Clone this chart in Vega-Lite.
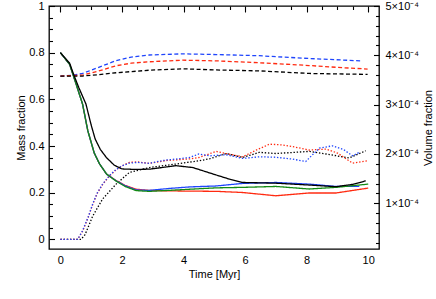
{
  "$schema": "https://vega.github.io/schema/vega-lite/v6.json",
  "width": 330,
  "height": 243,
  "autosize": {"type": "none"},
  "padding": {"left": 49, "top": 6, "right": 57, "bottom": 50},
  "config": {
    "font": "Liberation Sans",
    "view": {"stroke": "#000000", "strokeWidth": 1.3},
    "axis": {"grid": false, "domain": false, "labelFontSize": 11, "titleFontSize": 11, "labelColor": "#000000", "titleColor": "#000000", "tickColor": "#000000", "titleFontWeight": "normal", "tickWidth": 1.1}
  },
  "data": {
    "values": [
      {"t": 0, "v": 0.70, "color": "blue", "style": "dashed"},
      {"t": 0.4, "v": 0.703, "color": "blue", "style": "dashed"},
      {"t": 0.72, "v": 0.711, "color": "blue", "style": "dashed"},
      {"t": 1.2, "v": 0.735, "color": "blue", "style": "dashed"},
      {"t": 1.81, "v": 0.766, "color": "blue", "style": "dashed"},
      {"t": 2.3, "v": 0.781, "color": "blue", "style": "dashed"},
      {"t": 2.89, "v": 0.79, "color": "blue", "style": "dashed"},
      {"t": 3.97, "v": 0.795, "color": "blue", "style": "dashed"},
      {"t": 5.06, "v": 0.792, "color": "blue", "style": "dashed"},
      {"t": 6.46, "v": 0.787, "color": "blue", "style": "dashed"},
      {"t": 8.08, "v": 0.775, "color": "blue", "style": "dashed"},
      {"t": 9.76, "v": 0.765, "color": "blue", "style": "dashed"},

      {"t": 0, "v": 0.70, "color": "red", "style": "dashed"},
      {"t": 0.72, "v": 0.704, "color": "red", "style": "dashed"},
      {"t": 1.2, "v": 0.72, "color": "red", "style": "dashed"},
      {"t": 1.81, "v": 0.744, "color": "red", "style": "dashed"},
      {"t": 2.3, "v": 0.755, "color": "red", "style": "dashed"},
      {"t": 2.89, "v": 0.761, "color": "red", "style": "dashed"},
      {"t": 3.97, "v": 0.768, "color": "red", "style": "dashed"},
      {"t": 5.06, "v": 0.765, "color": "red", "style": "dashed"},
      {"t": 6.46, "v": 0.757, "color": "red", "style": "dashed"},
      {"t": 8.08, "v": 0.745, "color": "red", "style": "dashed"},
      {"t": 9.0, "v": 0.737, "color": "red", "style": "dashed"},
      {"t": 9.98, "v": 0.73, "color": "red", "style": "dashed"},

      {"t": 0, "v": 0.70, "color": "black", "style": "dashed"},
      {"t": 0.72, "v": 0.70, "color": "black", "style": "dashed"},
      {"t": 1.2, "v": 0.705, "color": "black", "style": "dashed"},
      {"t": 1.81, "v": 0.714, "color": "black", "style": "dashed"},
      {"t": 2.89, "v": 0.725, "color": "black", "style": "dashed"},
      {"t": 3.97, "v": 0.731, "color": "black", "style": "dashed"},
      {"t": 5.06, "v": 0.726, "color": "black", "style": "dashed"},
      {"t": 6.46, "v": 0.722, "color": "black", "style": "dashed"},
      {"t": 8.08, "v": 0.711, "color": "black", "style": "dashed"},
      {"t": 9.98, "v": 0.707, "color": "black", "style": "dashed"},

      {"t": 0, "v": 0, "color": "black", "style": "dotted"},
      {"t": 0.67, "v": 0, "color": "black", "style": "dotted"},
      {"t": 0.8, "v": 0.02, "color": "black", "style": "dotted"},
      {"t": 1.05, "v": 0.10, "color": "black", "style": "dotted"},
      {"t": 1.37, "v": 0.173, "color": "black", "style": "dotted"},
      {"t": 1.81, "v": 0.237, "color": "black", "style": "dotted"},
      {"t": 2.24, "v": 0.287, "color": "black", "style": "dotted"},
      {"t": 2.89, "v": 0.308, "color": "black", "style": "dotted"},
      {"t": 3.75, "v": 0.323, "color": "black", "style": "dotted"},
      {"t": 4.5, "v": 0.337, "color": "black", "style": "dotted"},
      {"t": 4.84, "v": 0.345, "color": "black", "style": "dotted"},
      {"t": 5.38, "v": 0.368, "color": "black", "style": "dotted"},
      {"t": 5.92, "v": 0.351, "color": "black", "style": "dotted"},
      {"t": 6.46, "v": 0.373, "color": "black", "style": "dotted"},
      {"t": 7.0, "v": 0.368, "color": "black", "style": "dotted"},
      {"t": 8.08, "v": 0.377, "color": "black", "style": "dotted"},
      {"t": 8.63, "v": 0.366, "color": "black", "style": "dotted"},
      {"t": 9.38, "v": 0.349, "color": "black", "style": "dotted"},
      {"t": 9.92, "v": 0.38, "color": "black", "style": "dotted"},

      {"t": 0, "v": 0, "color": "red", "style": "dotted"},
      {"t": 0.56, "v": 0, "color": "red", "style": "dotted"},
      {"t": 0.72, "v": 0.035, "color": "red", "style": "dotted"},
      {"t": 0.9, "v": 0.093, "color": "red", "style": "dotted"},
      {"t": 1.05, "v": 0.15, "color": "red", "style": "dotted"},
      {"t": 1.2, "v": 0.198, "color": "red", "style": "dotted"},
      {"t": 1.37, "v": 0.235, "color": "red", "style": "dotted"},
      {"t": 1.6, "v": 0.273, "color": "red", "style": "dotted"},
      {"t": 1.81, "v": 0.298, "color": "red", "style": "dotted"},
      {"t": 2.0, "v": 0.315, "color": "red", "style": "dotted"},
      {"t": 2.24, "v": 0.33, "color": "red", "style": "dotted"},
      {"t": 2.5, "v": 0.332, "color": "red", "style": "dotted"},
      {"t": 2.89, "v": 0.326, "color": "red", "style": "dotted"},
      {"t": 3.43, "v": 0.338, "color": "red", "style": "dotted"},
      {"t": 4.19, "v": 0.345, "color": "red", "style": "dotted"},
      {"t": 4.5, "v": 0.351, "color": "red", "style": "dotted"},
      {"t": 5.06, "v": 0.377, "color": "red", "style": "dotted"},
      {"t": 5.38, "v": 0.368, "color": "red", "style": "dotted"},
      {"t": 5.92, "v": 0.354, "color": "red", "style": "dotted"},
      {"t": 6.4, "v": 0.385, "color": "red", "style": "dotted"},
      {"t": 6.79, "v": 0.408, "color": "red", "style": "dotted"},
      {"t": 7.2, "v": 0.405, "color": "red", "style": "dotted"},
      {"t": 7.54, "v": 0.398, "color": "red", "style": "dotted"},
      {"t": 8.08, "v": 0.383, "color": "red", "style": "dotted"},
      {"t": 8.63, "v": 0.387, "color": "red", "style": "dotted"},
      {"t": 9.0, "v": 0.37, "color": "red", "style": "dotted"},
      {"t": 9.49, "v": 0.327, "color": "red", "style": "dotted"},
      {"t": 10.0, "v": 0.337, "color": "red", "style": "dotted"},

      {"t": 0, "v": 0, "color": "blue", "style": "dotted"},
      {"t": 0.56, "v": 0, "color": "blue", "style": "dotted"},
      {"t": 0.72, "v": 0.037, "color": "blue", "style": "dotted"},
      {"t": 0.9, "v": 0.095, "color": "blue", "style": "dotted"},
      {"t": 1.05, "v": 0.152, "color": "blue", "style": "dotted"},
      {"t": 1.2, "v": 0.2, "color": "blue", "style": "dotted"},
      {"t": 1.37, "v": 0.237, "color": "blue", "style": "dotted"},
      {"t": 1.6, "v": 0.275, "color": "blue", "style": "dotted"},
      {"t": 1.81, "v": 0.30, "color": "blue", "style": "dotted"},
      {"t": 2.0, "v": 0.315, "color": "blue", "style": "dotted"},
      {"t": 2.24, "v": 0.327, "color": "blue", "style": "dotted"},
      {"t": 2.5, "v": 0.33, "color": "blue", "style": "dotted"},
      {"t": 2.89, "v": 0.326, "color": "blue", "style": "dotted"},
      {"t": 3.2, "v": 0.335, "color": "blue", "style": "dotted"},
      {"t": 3.43, "v": 0.34, "color": "blue", "style": "dotted"},
      {"t": 3.8, "v": 0.345, "color": "blue", "style": "dotted"},
      {"t": 4.19, "v": 0.351, "color": "blue", "style": "dotted"},
      {"t": 4.5, "v": 0.366, "color": "blue", "style": "dotted"},
      {"t": 4.84, "v": 0.358, "color": "blue", "style": "dotted"},
      {"t": 5.38, "v": 0.363, "color": "blue", "style": "dotted"},
      {"t": 5.92, "v": 0.347, "color": "blue", "style": "dotted"},
      {"t": 6.46, "v": 0.354, "color": "blue", "style": "dotted"},
      {"t": 7.0, "v": 0.352, "color": "blue", "style": "dotted"},
      {"t": 7.54, "v": 0.344, "color": "blue", "style": "dotted"},
      {"t": 7.97, "v": 0.334, "color": "blue", "style": "dotted"},
      {"t": 8.41, "v": 0.391, "color": "blue", "style": "dotted"},
      {"t": 8.84, "v": 0.401, "color": "blue", "style": "dotted"},
      {"t": 9.2, "v": 0.385, "color": "blue", "style": "dotted"},
      {"t": 9.49, "v": 0.358, "color": "blue", "style": "dotted"},
      {"t": 9.71, "v": 0.373, "color": "blue", "style": "dotted"},

      {"t": 0, "v": 0.80, "color": "red", "style": "solid"},
      {"t": 0.3, "v": 0.75, "color": "red", "style": "solid"},
      {"t": 0.5, "v": 0.67, "color": "red", "style": "solid"},
      {"t": 0.72, "v": 0.58, "color": "red", "style": "solid"},
      {"t": 0.89, "v": 0.466, "color": "red", "style": "solid"},
      {"t": 1.1, "v": 0.37, "color": "red", "style": "solid"},
      {"t": 1.27, "v": 0.324, "color": "red", "style": "solid"},
      {"t": 1.5, "v": 0.28, "color": "red", "style": "solid"},
      {"t": 1.81, "v": 0.252, "color": "red", "style": "solid"},
      {"t": 2.1, "v": 0.232, "color": "red", "style": "solid"},
      {"t": 2.46, "v": 0.215, "color": "red", "style": "solid"},
      {"t": 2.89, "v": 0.21, "color": "red", "style": "solid"},
      {"t": 3.5, "v": 0.208, "color": "red", "style": "solid"},
      {"t": 4.2, "v": 0.207, "color": "red", "style": "solid"},
      {"t": 5.06, "v": 0.206, "color": "red", "style": "solid"},
      {"t": 5.92, "v": 0.201, "color": "red", "style": "solid"},
      {"t": 7.0, "v": 0.187, "color": "red", "style": "solid"},
      {"t": 8.08, "v": 0.199, "color": "red", "style": "solid"},
      {"t": 8.95, "v": 0.199, "color": "red", "style": "solid"},
      {"t": 9.5, "v": 0.21, "color": "red", "style": "solid"},
      {"t": 10.0, "v": 0.22, "color": "red", "style": "solid"},

      {"t": 0, "v": 0.80, "color": "blue", "style": "solid"},
      {"t": 0.3, "v": 0.75, "color": "blue", "style": "solid"},
      {"t": 0.5, "v": 0.67, "color": "blue", "style": "solid"},
      {"t": 0.72, "v": 0.58, "color": "blue", "style": "solid"},
      {"t": 0.89, "v": 0.466, "color": "blue", "style": "solid"},
      {"t": 1.1, "v": 0.37, "color": "blue", "style": "solid"},
      {"t": 1.27, "v": 0.324, "color": "blue", "style": "solid"},
      {"t": 1.5, "v": 0.28, "color": "blue", "style": "solid"},
      {"t": 1.81, "v": 0.251, "color": "blue", "style": "solid"},
      {"t": 2.1, "v": 0.23, "color": "blue", "style": "solid"},
      {"t": 2.46, "v": 0.212, "color": "blue", "style": "solid"},
      {"t": 2.89, "v": 0.21, "color": "blue", "style": "solid"},
      {"t": 3.5, "v": 0.218, "color": "blue", "style": "solid"},
      {"t": 4.2, "v": 0.225, "color": "blue", "style": "solid"},
      {"t": 5.06, "v": 0.229, "color": "blue", "style": "solid"},
      {"t": 5.92, "v": 0.24, "color": "blue", "style": "solid"},
      {"t": 7.0, "v": 0.244, "color": "blue", "style": "solid"},
      {"t": 8.08, "v": 0.237, "color": "blue", "style": "solid"},
      {"t": 8.95, "v": 0.227, "color": "blue", "style": "solid"},
      {"t": 9.71, "v": 0.227, "color": "blue", "style": "solid"},

      {"t": 0, "v": 0.80, "color": "green", "style": "solid"},
      {"t": 0.3, "v": 0.75, "color": "green", "style": "solid"},
      {"t": 0.5, "v": 0.67, "color": "green", "style": "solid"},
      {"t": 0.72, "v": 0.58, "color": "green", "style": "solid"},
      {"t": 0.89, "v": 0.466, "color": "green", "style": "solid"},
      {"t": 1.1, "v": 0.37, "color": "green", "style": "solid"},
      {"t": 1.27, "v": 0.324, "color": "green", "style": "solid"},
      {"t": 1.5, "v": 0.28, "color": "green", "style": "solid"},
      {"t": 1.81, "v": 0.25, "color": "green", "style": "solid"},
      {"t": 2.1, "v": 0.227, "color": "green", "style": "solid"},
      {"t": 2.46, "v": 0.209, "color": "green", "style": "solid"},
      {"t": 2.89, "v": 0.206, "color": "green", "style": "solid"},
      {"t": 3.5, "v": 0.21, "color": "green", "style": "solid"},
      {"t": 4.2, "v": 0.215, "color": "green", "style": "solid"},
      {"t": 5.06, "v": 0.221, "color": "green", "style": "solid"},
      {"t": 5.92, "v": 0.223, "color": "green", "style": "solid"},
      {"t": 7.0, "v": 0.227, "color": "green", "style": "solid"},
      {"t": 8.08, "v": 0.216, "color": "green", "style": "solid"},
      {"t": 8.95, "v": 0.223, "color": "green", "style": "solid"},
      {"t": 10.0, "v": 0.237, "color": "green", "style": "solid"},

      {"t": 0, "v": 0.80, "color": "black", "style": "solid"},
      {"t": 0.3, "v": 0.755, "color": "black", "style": "solid"},
      {"t": 0.45, "v": 0.70, "color": "black", "style": "solid"},
      {"t": 0.6, "v": 0.65, "color": "black", "style": "solid"},
      {"t": 0.83, "v": 0.58, "color": "black", "style": "solid"},
      {"t": 1.0, "v": 0.49, "color": "black", "style": "solid"},
      {"t": 1.13, "v": 0.43, "color": "black", "style": "solid"},
      {"t": 1.3, "v": 0.385, "color": "black", "style": "solid"},
      {"t": 1.5, "v": 0.35, "color": "black", "style": "solid"},
      {"t": 1.75, "v": 0.318, "color": "black", "style": "solid"},
      {"t": 2.0, "v": 0.302, "color": "black", "style": "solid"},
      {"t": 2.4, "v": 0.30, "color": "black", "style": "solid"},
      {"t": 2.89, "v": 0.301, "color": "black", "style": "solid"},
      {"t": 3.3, "v": 0.308, "color": "black", "style": "solid"},
      {"t": 3.75, "v": 0.316, "color": "black", "style": "solid"},
      {"t": 4.3, "v": 0.308, "color": "black", "style": "solid"},
      {"t": 5.06, "v": 0.276, "color": "black", "style": "solid"},
      {"t": 5.5, "v": 0.258, "color": "black", "style": "solid"},
      {"t": 5.92, "v": 0.244, "color": "black", "style": "solid"},
      {"t": 7.0, "v": 0.241, "color": "black", "style": "solid"},
      {"t": 8.08, "v": 0.233, "color": "black", "style": "solid"},
      {"t": 8.95, "v": 0.226, "color": "black", "style": "solid"},
      {"t": 9.5, "v": 0.236, "color": "black", "style": "solid"},
      {"t": 9.92, "v": 0.251, "color": "black", "style": "solid"}
    ]
  },
  "layer": [
    {
      "mark": {"type": "line", "strokeWidth": 1.3},
      "encoding": {
        "x": {"field": "t", "type": "quantitative", "scale": {"domain": [-0.37, 10.35], "nice": false, "zero": false},
              "axis": {"values": [0, 2, 4, 6, 8, 10], "format": "d", "ticks": false, "labelPadding": 5, "title": "Time [Myr]", "titlePadding": 3, "labelFlush": false}},
        "y": {"field": "v", "type": "quantitative", "scale": {"domain": [-0.041, 1], "nice": false, "zero": false},
              "axis": {"orient": "left", "values": [0, 0.2, 0.4, 0.6, 0.8, 1], "format": "~r", "ticks": false, "labelPadding": 5, "title": "Mass fraction", "titlePadding": 2, "labelFlush": false}},
        "color": {"field": "color", "type": "nominal", "scale": {"domain": ["black", "red", "blue", "green"], "range": ["#000000", "#ff2a10", "#1f45fc", "#138a13"]}, "legend": null},
        "strokeDash": {"field": "style", "type": "nominal", "scale": {"domain": ["solid", "dashed", "dotted"], "range": [[1, 0], [4, 2.5], [1.4, 1.8]]}, "legend": null}
      }
    },
    {
      "mark": {"type": "line", "opacity": 0},
      "encoding": {
        "x": {"field": "t", "type": "quantitative", "scale": {"domain": [-0.37, 10.35], "nice": false, "zero": false},
              "axis": {"values": [0, 2, 4, 6, 8, 10], "labels": false, "tickSize": -6, "title": null}},
        "y": {"field": "v", "type": "quantitative", "scale": {"domain": [-0.041, 1], "nice": false, "zero": false},
              "axis": {"orient": "left", "values": [0, 0.2, 0.4, 0.6, 0.8, 1], "labels": false, "tickSize": -5.5, "title": null}}
      }
    },
    {
      "mark": {"type": "line", "opacity": 0},
      "encoding": {
        "x": {"field": "t", "type": "quantitative", "scale": {"domain": [-0.37, 10.35], "nice": false, "zero": false},
              "axis": {"values": [0.5, 1, 1.5, 2.5, 3, 3.5, 4.5, 5, 5.5, 6.5, 7, 7.5, 8.5, 9, 9.5], "labels": false, "tickSize": -3.5, "title": null}},
        "y": {"field": "v", "type": "quantitative", "scale": {"domain": [-0.041, 1], "nice": false, "zero": false},
              "axis": {"orient": "left", "values": [0.05, 0.1, 0.15, 0.25, 0.3, 0.35, 0.45, 0.5, 0.55, 0.65, 0.7, 0.75, 0.85, 0.9, 0.95], "labels": false, "tickSize": -3.5, "title": null}}
      }
    },
    {
      "mark": {"type": "line", "opacity": 0},
      "encoding": {
        "x": {"field": "t", "type": "quantitative", "scale": {"domain": [-0.37, 10.35], "nice": false, "zero": false}, "axis": null},
        "y": {"field": "v", "type": "quantitative", "scale": {"domain": [-0.041, 1], "nice": false, "zero": false},
              "axis": {"orient": "right", "values": [0.1548, 0.3661, 0.5774, 0.7887, 1.0], "ticks": false, "labelPadding": 6, "labelFlush": false,
                       "labelExpr": "round(5 - (1 - datum.value) / 0.21131) + '×10⁻⁴'",
                       "title": "Volume fraction", "titleAngle": -90, "titleBaseline": "top", "titlePadding": 4}}
      }
    },
    {
      "mark": {"type": "line", "opacity": 0},
      "encoding": {
        "x": {"field": "t", "type": "quantitative", "scale": {"domain": [-0.37, 10.35], "nice": false, "zero": false}, "axis": null},
        "y": {"field": "v", "type": "quantitative", "scale": {"domain": [-0.041, 1], "nice": false, "zero": false},
              "axis": {"orient": "right", "values": [0.1548, 0.3661, 0.5774, 0.7887, 1.0], "labels": false, "tickSize": -5.5, "title": null}}
      }
    },
    {
      "mark": {"type": "line", "opacity": 0},
      "encoding": {
        "x": {"field": "t", "type": "quantitative", "scale": {"domain": [-0.37, 10.35], "nice": false, "zero": false}, "axis": null},
        "y": {"field": "v", "type": "quantitative", "scale": {"domain": [-0.041, 1], "nice": false, "zero": false},
              "axis": {"orient": "right", "values": [-0.0143, 0.028, 0.0702, 0.1125, 0.197, 0.2393, 0.2815, 0.3238, 0.4083, 0.4506, 0.4929, 0.5351, 0.6196, 0.6619, 0.7042, 0.7464, 0.831, 0.8732, 0.9155, 0.9577], "labels": false, "tickSize": -3.5, "title": null}}
      }
    }
  ],
  "resolve": {"axis": {"x": "independent", "y": "independent"}}
}
